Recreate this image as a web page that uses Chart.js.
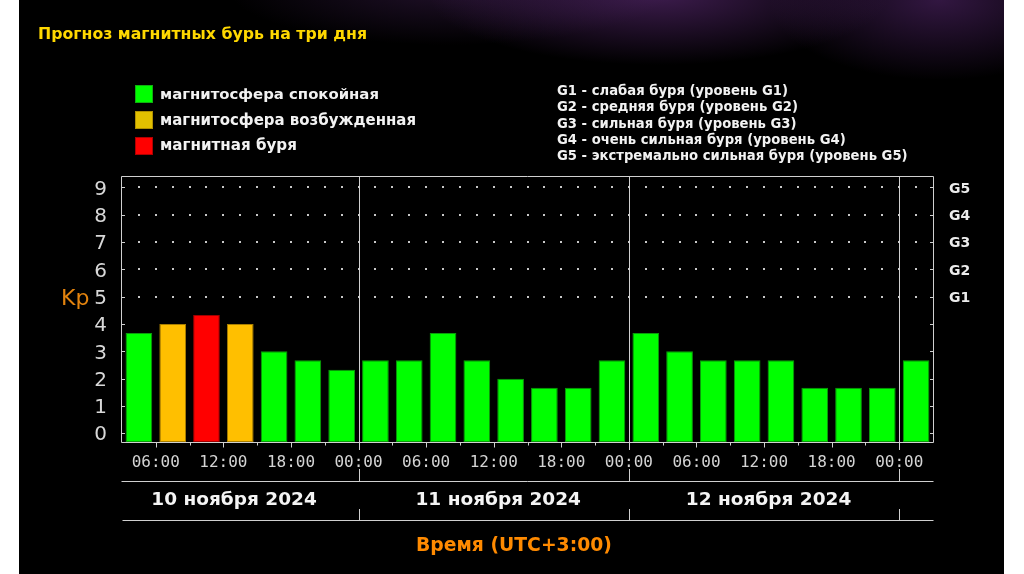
<!DOCTYPE html>
<html lang="ru">
<head>
<meta charset="utf-8">
<script src="https://cdn.jsdelivr.net/npm/chart.js@4"></script>
<style>
  html,body{margin:0;padding:0;background:#fff;width:1024px;height:574px;overflow:hidden;}
  #panel{position:absolute;left:19px;top:0;width:985px;height:574px;
    background:
      radial-gradient(ellipse 230px 70px at 640px -5px, rgba(110,50,140,0.55), rgba(0,0,0,0) 100%),
      radial-gradient(ellipse 170px 80px at 920px 0px, rgba(100,45,130,0.5), rgba(0,0,0,0) 100%),
      radial-gradient(ellipse 220px 55px at 430px -10px, rgba(70,35,90,0.45), rgba(0,0,0,0) 100%),
      #000;}
  canvas{position:absolute;left:0;top:0;}
  .t{position:absolute;white-space:nowrap;line-height:1;transform:translateY(-50%);font-family:"DejaVu Sans",sans-serif;}
  .sq{position:absolute;width:18px;height:18px;box-sizing:border-box;}
</style>
</head>
<body>
<div id="panel"></div>
<canvas id="c" width="1024" height="574"></canvas>

<div class="t" id="title" style="left:38px;top:34px;font-weight:bold;font-size:15px;color:#ffd800;">Прогноз магнитных бурь на три дня</div>

<div class="sq" style="left:135px;top:85px;background:#00ff00;border:1px solid #10b010;"></div>
<div class="t" id="lg1" style="left:160px;top:94px;font-weight:bold;font-size:14px;color:#f2f2f2;">магнитосфера спокойная</div>
<div class="sq" style="left:135px;top:111px;background:#e2c000;border:1px solid #b09000;"></div>
<div class="t" id="lg2" style="left:160px;top:120px;font-weight:bold;font-size:14px;color:#f2f2f2;">магнитосфера возбужденная</div>
<div class="sq" style="left:135px;top:137px;background:#ff0000;border:1px solid #b00000;"></div>
<div class="t" id="lg3" style="left:160px;top:146px;font-weight:bold;font-size:14px;color:#f2f2f2;">магнитная буря</div>

<div class="t g" style="left:557px;top:91px;font-weight:bold;font-size:13px;color:#f2f2f2;">G1 - слабая буря (уровень G1)</div>
<div class="t g" style="left:557px;top:107px;font-weight:bold;font-size:13px;color:#f2f2f2;">G2 - средняя буря (уровень G2)</div>
<div class="t g" style="left:557px;top:123.5px;font-weight:bold;font-size:13px;color:#f2f2f2;">G3 - сильная буря (уровень G3)</div>
<div class="t g" style="left:557px;top:140px;font-weight:bold;font-size:13px;color:#f2f2f2;">G4 - очень сильная буря (уровень G4)</div>
<div class="t g" id="g5" style="left:557px;top:156px;font-weight:bold;font-size:13px;color:#f2f2f2;">G5 - экстремально сильная буря (уровень G5)</div>

<div class="t" id="kp" style="left:61px;top:298px;font-size:22px;color:#e3830e;">Kp</div>
<div class="t" id="xt" style="left:416px;top:545px;font-weight:bold;font-size:20px;color:#ff8a00;">Время (UTC+3:00)</div>

<script>
// ---------- data ----------
const dates = ['10 ноября 2024', '11 ноября 2024', '12 ноября 2024'];
const timeLabels = ['00:00', '06:00', '12:00', '18:00'];
const gLabels = ['G1', 'G2', 'G3', 'G4', 'G5'];
const yTicks = [0, 1, 2, 3, 4, 5, 6, 7, 8, 9];
// Kp per 3-hour slot (first slot: 10 Nov 03:00–06:00)
const kp10 = [3.67, 4.00, 4.33, 4.00, 3.00, 2.67, 2.33];
const kp11 = [2.67, 2.67, 3.67, 2.67, 2.00, 1.67, 1.67, 2.67];
const kp12 = [3.67, 3.00, 2.67, 2.67, 2.67, 1.67, 1.67, 1.67];
const kp13 = [2.67];
// state: 0 = спокойная, 1 = возбужденная, 2 = буря
const st10 = [0, 1, 2, 1, 0, 0, 0];
const st11 = [0, 0, 0, 0, 0, 0, 0, 0];
const st12 = [0, 0, 0, 0, 0, 0, 0, 0];
const st13 = [0];

// ---------- build ----------
const START_H = 3, SLOT = 3, END_H = 75, YMIN = -0.32, YMAX = 9.42;
const kp = [...kp10, ...kp11, ...kp12, ...kp13];
const st = [...st10, ...st11, ...st12, ...st13];
const fill = ['#00ff00', '#ffbf00', '#ff0000'];
const edge = ['#0c9a0c', '#a87e00', '#a00000'];
const points = kp.map((v, i) => ({ x: START_H + SLOT * i + SLOT / 2, y: [YMIN, v] }));

// fit html texts
function fitW(el, w) {
  const r = el.getBoundingClientRect().width;
  const fs = parseFloat(getComputedStyle(el).fontSize);
  el.style.fontSize = (fs * w / r).toFixed(2) + 'px';
}
fitW(document.getElementById('title'), 329);
fitW(document.getElementById('lg1'), 219);
fitW(document.getElementById('lg2'), 256);
fitW(document.getElementById('lg3'), 137);
fitW(document.getElementById('g5'), 351);
{
  const fs = document.getElementById('g5').style.fontSize;
  document.querySelectorAll('.g').forEach(e => e.style.fontSize = fs);
}
fitW(document.getElementById('xt'), 196);

const LINE = '#d0d0d0';
const deco = {
  id: 'deco',
  beforeDatasetsDraw(chart) {
    const { ctx, chartArea: a, scales: { x, y } } = chart;
    ctx.save();
    // dotted grid at levels 5..9
    ctx.fillStyle = '#c8c8c8';
    for (let v = 5; v <= 9; v++) {
      const py = Math.round(y.getPixelForValue(v));
      for (let h = START_H + 1.5; h < END_H - 0.1; h += 1.5) {
        const px = Math.round(x.getPixelForValue(h));
        ctx.fillRect(px - 1, py - 1, 2, 2);
      }
    }
    ctx.strokeStyle = LINE;
    ctx.lineWidth = 1;
    const L = Math.round(a.left) - 0.5, R = Math.round(a.right) + 0.5;
    const T = Math.round(a.top) + 0.5, B = Math.round(a.bottom) + 0.5;
    ctx.beginPath();
    // frame
    ctx.moveTo(L, T); ctx.lineTo(R, T); ctx.lineTo(R, B); ctx.lineTo(L, B); ctx.closePath();
    // inner y ticks
    for (const v of yTicks) {
      const py = Math.round(y.getPixelForValue(v)) + 0.5;
      ctx.moveTo(L, py); ctx.lineTo(L + 3.5, py);
      ctx.moveTo(R, py); ctx.lineTo(R - 3.5, py);
    }
    // bottom x ticks
    for (let h = START_H + SLOT; h < END_H; h += SLOT) {
      const px = Math.round(x.getPixelForValue(h)) + 0.5;
      const len = h % 6 === 0 ? 5 : 3;
      ctx.moveTo(px, B); ctx.lineTo(px, B + len);
    }
    // day separators
    for (let h = 24; h < END_H; h += 24) {
      const px = Math.round(x.getPixelForValue(h)) + 0.5;
      ctx.moveTo(px, T); ctx.lineTo(px, 450);
      ctx.moveTo(px, 469); ctx.lineTo(px, 481);
      ctx.moveTo(px, 509); ctx.lineTo(px, 520);
    }
    // rows under time labels and dates
    ctx.moveTo(L, 481.5); ctx.lineTo(R, 481.5);
    ctx.moveTo(L + 1, 520.5); ctx.lineTo(R, 520.5);
    ctx.stroke();
    // date labels
    const anchors = [12.95, 36.4, 60.4];
    ctx.fillStyle = '#f4f4f4';
    ctx.font = 'bold 18.5px "DejaVu Sans"';
    ctx.textAlign = 'center';
    ctx.textBaseline = 'middle';
    dates.forEach((d, i) => ctx.fillText(d, x.getPixelForValue(anchors[i]), 500));
    ctx.restore();
  }
};

new Chart(document.getElementById('c'), {
  type: 'bar',
  data: {
    datasets: [{
      data: points,
      backgroundColor: st.map(s => fill[s]),
      borderColor: st.map(s => edge[s]),
      borderWidth: 1,
      borderSkipped: false,
      barPercentage: 0.79,
      categoryPercentage: 1.0
    }]
  },
  options: {
    responsive: false,
    animation: false,
    layout: { padding: { left: 0, right: 31, top: 176, bottom: 102 } },
    plugins: { legend: { display: false }, tooltip: { enabled: false } },
    scales: {
      x: {
        type: 'linear', min: START_H, max: END_H, offset: false,
        grid: { display: false, offset: false }, border: { display: false },
        afterFit: s => { s.height = 30; },
        afterBuildTicks: s => { s.ticks = []; for (let h = 6; h < END_H; h += 6) s.ticks.push({ value: h }); },
        ticks: {
          autoSkip: false, maxRotation: 0, padding: 3,
          color: '#d4d4d4', font: { family: 'DejaVu Sans Mono', size: 16 },
          callback: v => timeLabels[(v % 24) / 6]
        }
      },
      y: {
        min: YMIN, max: YMAX, position: 'left',
        grid: { display: false }, border: { display: false },
        afterFit: s => { s.width = 122; },
        afterBuildTicks: s => { s.ticks = yTicks.map(v => ({ value: v })); },
        ticks: { padding: 7, labelOffset: 2, color: '#d8d8d8', font: { family: 'DejaVu Sans', size: 20 } }
      },
      y2: {
        min: YMIN, max: YMAX, position: 'right',
        grid: { display: false }, border: { display: false },
        afterFit: s => { s.width = 60; },
        afterBuildTicks: s => { s.ticks = gLabels.map((g, i) => ({ value: 5 + i })); },
        ticks: {
          padding: 8, labelOffset: 1.5, color: '#ececec', font: { family: 'DejaVu Sans', size: 14, weight: 'bold' },
          callback: v => gLabels[v - 5]
        }
      }
    }
  },
  plugins: [deco]
});
</script>
</body>
</html>
